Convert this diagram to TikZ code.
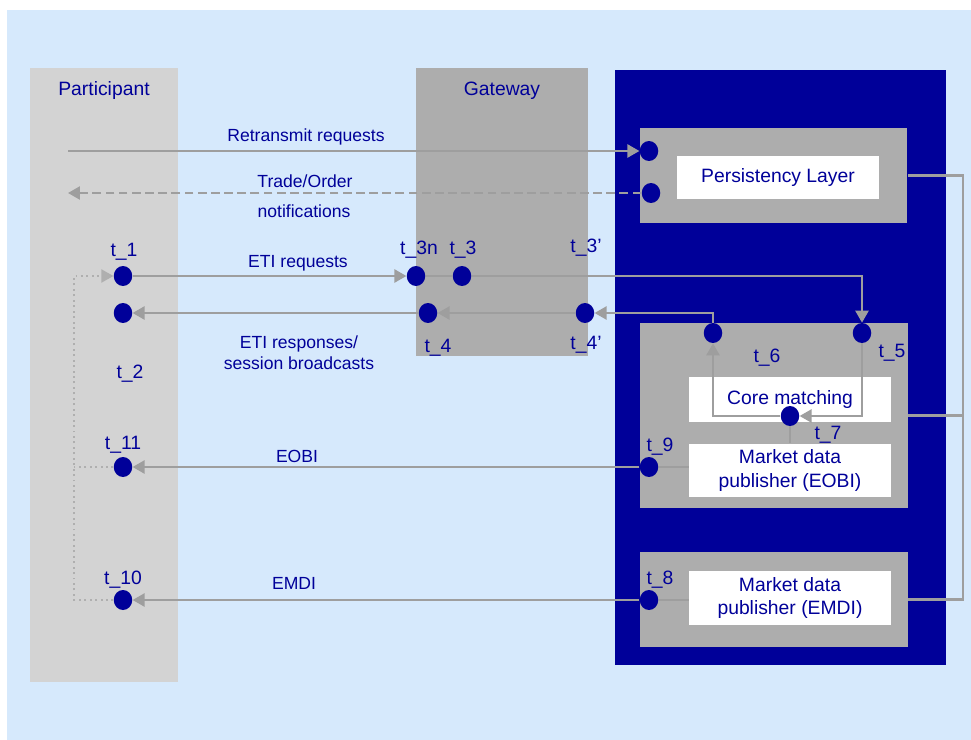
\documentclass[tikz,border=0pt]{standalone}
\usepackage{fontspec}
\setmainfont{Liberation Sans}
\usepackage{tikz}
\usetikzlibrary{shapes.geometric,arrows.meta,positioning}
\definecolor{bgblue}{RGB}{214,233,252}
\definecolor{partgray}{RGB}{211,211,211}
\definecolor{gwgray}{RGB}{173,173,173}
\definecolor{ebnavy}{RGB}{0,0,153}
\definecolor{flowgray}{RGB}{158,158,158}
\definecolor{dotgray}{RGB}{175,175,175}

\begin{document}
\begin{tikzpicture}[x=0.02cm,y=-0.02cm,
  every node/.style={text=ebnavy,font=\fontsize{11}{13.5}\selectfont},
  dot/.style={ellipse,fill=ebnavy,inner sep=0pt,minimum width=0.37cm,minimum height=0.4cm},
  graybox/.style={fill=gwgray,minimum width=5.36cm},
  whitebox/.style={fill=white,minimum width=4.04cm,align=center},
  lbl/.style={font=\fontsize{10}{12}\selectfont},
  tip/.style={-{Triangle[length=6.8pt,width=7.4pt]}},
  link/.style={draw=flowgray,line width=1.3pt},
  flow/.style={link,tip},
  loopback/.style={draw=dotgray,line width=1.1pt,dotted}]
\useasboundingbox (0,0) rectangle (971,740);
\fill[bgblue] (7,10) rectangle (971,740);
% columns
\fill[partgray] (30,68) rectangle (178,682);
\fill[gwgray] (416,68) rectangle (588,356);
\fill[ebnavy] (615,70) rectangle (946,665);
\node (participant) at (104,91) {Participant};
\node (gateway) at (502,91) {Gateway};

% back end boxes
\node[graybox,minimum height=1.9cm] (persbox) at (773.5,175.5) {};
\node[whitebox,minimum height=0.86cm] (pers) at (778,177.5) {Persistency Layer};
\node[graybox,minimum height=3.7cm] (corebox) at (774,415.5) {};
\node[whitebox,minimum height=0.9cm] (core) at (790,399.5) {Core matching};
\node[whitebox,minimum height=1.06cm] (eobi) at (790,470.5) {Market data\\publisher (EOBI)};
\node[graybox,minimum height=1.9cm] (emdibox) at (774,599.5) {};
\node[whitebox,minimum height=0.96cm] (emdi) at (790,598) {Market data\\publisher (EMDI)};

% timestamps
\node[dot] (p1) at (649,151) {};
\node[dot] (p2) at (651,193) {};
\node[dot] (t1) at (123,276) {};
\node[dot] (t3n) at (416,276) {};
\node[dot] (t3) at (462,276) {};
\node[dot] (t2) at (123,313) {};
\node[dot] (t4) at (428,313) {};
\node[dot] (t4p) at (585,313) {};
\node[dot] (t6) at (713,333) {};
\node[dot] (t5) at (862,333) {};
\node[dot] (t7) at (790,416) {};
\node[dot] (t9) at (649,467) {};
\node[dot] (t11) at (123,467) {};
\node[dot] (t8) at (649,600) {};
\node[dot] (t10) at (123,600) {};
\coordinate (retx) at (68,151);
\coordinate (notif) at (68,193);
\coordinate (bend) at (74,600);
\coordinate (rside) at (963,175.5);

\node (lt1) at (124,252) {t\_1};
\node (lt2) at (130,374) {t\_2};
\node (lt3n) at (419,250) {t\_3n};
\node (lt3) at (463,250) {t\_3};
\node (lt3p) at (586,248) {t\_3'};
\node (lt4) at (438,348) {t\_4};
\node (lt4p) at (586,345) {t\_4'};
\node (lt5) at (892,353) {t\_5};
\node (lt6) at (767,358) {t\_6};
\node (lt7) at (828,435) {t\_7};
\node (lt9) at (660,447) {t\_9};
\node (lt11) at (123,445) {t\_11};
\node (lt10) at (123,580) {t\_10};
\node (lt8) at (660,580) {t\_8};

\node[lbl] (lretx) at (306,137) {Retransmit requests};
\node[lbl] (ltrade) at (305,181) {Trade/Order};
\node[lbl] (lnotif) at (304,211) {notifications};
\node[lbl] (lreq) at (298,263) {ETI requests};
\node[lbl,align=center] (lresp) at (299,353) {ETI responses/\\session broadcasts};
\node[lbl] (leobi) at (297,456) {EOBI};
\node[lbl] (lemdi) at (294,583) {EMDI};

% flows
\draw[flow] (retx) -- (p1);
\draw[flow,dash pattern=on 5pt off 2.5pt] (p2) -- (notif);
\draw[flow] (t1) -- (t3n);
\draw[link] (t3n) -- (t3);
\draw[flow] (t3) -| (t5);
\draw[flow] (t5) |- (t7);
\draw[flow] (t7) -| (t6);
\draw[link] (t7) -- (t7 |- eobi.north);
\draw[flow] (t6) |- (t4p);
\draw[flow] (t4p) -- (t4);
\draw[flow] (t4) -- (t2);
\draw[link] (t9) -- (t9 -| eobi.west);
\draw[flow] (t9) -- (t11);
\draw[link] (t8) -- (t8 -| emdi.west);
\draw[flow] (t8) -- (t10);
\draw[link,line width=1.2pt] (persbox.east) -- (rside) |- (emdibox.east);
\draw[link,line width=1.2pt] (corebox.east) -- (corebox.east -| rside);
\draw[loopback,tip] (t10) -- (bend) |- (t1);
\draw[loopback] (t11) -- (t11 -| bend);
\end{tikzpicture}
\end{document}
